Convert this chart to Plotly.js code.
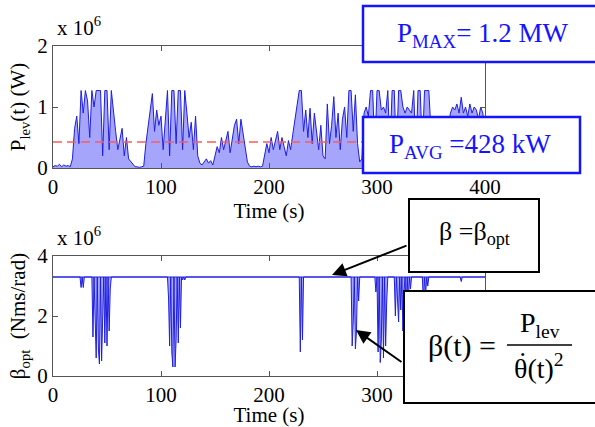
<!DOCTYPE html>
<html>
<head>
<meta charset="utf-8">
<script src="https://cdn.plot.ly/plotly-3.0.1.min.js"></script>
<style>html,body{margin:0;padding:0;background:#fff;}#chart{width:595px;height:427px;}</style>
</head>
<body>
<div id="chart"></div>
<script>
// ---------------- DATA ----------------
// Levitation power P_lev(t), in units of 10^6 W, sampled every 2 s from t = 0 to 400 s
var timeStart = 0;
var timeStep = 2;
var pLevE6 = [
  0.02,0.04,0.03,0.06,0.02,0.05,0.03,0.04,0.02,0.15,
  0.65,0.85,0.40,1.27,0.90,1.27,1.10,0.50,1.27,1.00,
  1.27,1.27,1.27,0.20,1.27,1.27,0.30,1.27,0.90,0.60,
  0.30,0.45,0.65,0.20,0.50,0.15,0.10,0.05,0.02,0.02,
  0.01,0.02,0.03,0.40,0.70,0.90,1.22,0.60,0.95,0.70,
  0.85,0.30,0.80,1.27,0.20,1.27,1.27,0.40,1.27,1.27,
  0.30,1.27,0.90,0.50,0.75,0.30,0.85,0.20,0.08,0.05,
  0.10,0.15,0.08,0.12,0.05,0.20,0.35,0.25,0.50,0.30,
  0.45,0.60,0.25,0.50,0.70,0.80,0.40,0.80,0.55,0.30,
  0.10,0.03,0.02,0.03,0.02,0.03,0.02,0.03,0.20,0.40,
  0.25,0.50,0.30,0.45,0.60,0.30,0.50,0.35,0.20,0.45,
  0.30,0.55,0.80,1.10,1.27,1.27,0.60,0.95,0.50,0.98,
  0.40,0.90,0.60,0.30,0.70,0.20,0.15,1.05,0.40,0.70,
  1.17,0.50,0.90,0.30,0.80,1.00,0.50,1.27,1.27,0.60,
  1.20,0.40,0.10,0.15,0.90,1.00,0.85,1.27,1.27,0.30,
  1.27,1.27,0.95,1.00,0.90,1.27,0.30,1.27,1.27,0.20,
  1.27,1.27,1.00,0.90,1.00,0.95,0.90,1.27,0.20,1.27,
  1.27,0.30,1.27,1.27,1.27,0.60,0.40,0.70,0.50,0.30,
  0.60,0.40,0.50,0.70,0.90,1.00,0.95,1.05,0.90,1.16,
  0.90,1.00,0.85,1.05,0.90,1.00,0.95,0.80,1.00,0.90,
  0.55
];
var pAvgE6 = 0.428;            // P_AVG = 428 kW
var timeRange = [0, 400];

// Damping beta(t), in units of 10^6 Nms/rad
var betaOptE6 = 3.3;
var betaTime = [0,25,26,27,28,29,
  36,37,38,39,40,41,42,43,44,45,46,47,48,49,50,51,52,53,54,
  106,107,108,109,110,111,112,113,114,115,116,117,118,119,120,121,122,123,
  228,229,230,231,232,
  276,277,278,279,280,281,282,283,284,
  298,299,300,301,302,303,304,305,306,307,308,309,310,
  316,317,318,319,320,321,322,323,324,325,326,327,328,329,330,331,332,
  342,343,344,345,346,347,348,
  377,378,379,400];
var betaE6 = [3.3,3.3,2.95,3.3,2.95,3.3,
  3.3,1.3,3.3,1.5,0.6,3.3,0.9,0.4,3.3,0.5,2.0,3.3,1.1,3.3,1.0,3.3,1.5,2.9,3.3,
  3.3,2.6,1.0,3.3,0.8,0.3,3.3,0.3,1.2,3.3,1.1,3.3,1.6,3.3,3.2,3.3,3.2,3.3,
  3.3,0.8,3.3,1.2,3.3,
  3.3,1.0,1.8,3.3,0.9,1.5,3.3,2.5,3.3,
  3.3,2.8,3.3,0.8,3.3,0.45,1.2,3.3,0.6,3.3,1.0,2.5,3.3,
  3.3,2.0,3.3,2.6,1.8,3.3,2.2,3.3,1.5,2.8,3.3,2.0,3.3,2.4,3.3,2.9,3.3,
  3.3,2.4,3.3,2.7,3.3,3.0,3.3,
  3.3,3.15,3.3,3.3];

var xTicks = [0, 100, 200, 300, 400];
var yTicksTop = [0, 1, 2];
var yTicksBottom = [0, 2, 4];

// ---------------- LAYOUT HELPERS ----------------
var W = 595, H = 427;
var mL = 53, mR = 110, mT = 46, mB = 51;
var pw = W - mL - mR, ph = H - mT - mB;
function px(x) { return (x - mL) / pw; }
function py(y) { return (H - mB - y) / ph; }

var serif = 'Liberation Serif, Times New Roman, serif';
var axisColor = '#555';
var blueLine = 'rgb(30,30,225)';
var blueFill = 'rgba(105,105,250,0.6)';

var traces = [
  {x0: timeStart, dx: timeStep, y: pLevE6, type: 'scatter', mode: 'lines',
   fill: 'tozeroy', fillcolor: blueFill, line: {color: blueLine, width: 1},
   xaxis: 'x', yaxis: 'y', hoverinfo: 'skip'},
  {x: timeRange, y: [pAvgE6, pAvgE6], type: 'scatter', mode: 'lines',
   line: {color: 'rgb(255,90,90)', width: 1.5, dash: '9px,5px'},
   xaxis: 'x', yaxis: 'y', hoverinfo: 'skip'},
  {x: timeRange, y: [betaOptE6, betaOptE6], type: 'scatter', mode: 'lines',
   line: {color: blueLine, width: 1}, xaxis: 'x2', yaxis: 'y2', hoverinfo: 'skip'},
  {x: betaTime, y: betaE6, type: 'scatter', mode: 'lines',
   fill: 'tonexty', fillcolor: blueFill, line: {color: blueLine, width: 1},
   xaxis: 'x2', yaxis: 'y2', hoverinfo: 'skip'}
];

var fs = 21;
function xAxis(anchor) {
  return {anchor: anchor, domain: [0, 1], range: timeRange, tickvals: xTicks,
    ticks: 'inside', ticklen: 5, tickcolor: axisColor, mirror: 'ticks',
    showline: true, linecolor: axisColor, linewidth: 1, showgrid: false, zeroline: false,
    tickfont: {family: serif, size: fs, color: '#000'},
    title: {text: 'Time (s)', font: {family: serif, size: fs, color: '#000'}, standoff: 4}};
}
function yAxis(anchor, domain, range, ticks, title) {
  return {anchor: anchor, domain: domain, range: range, tickvals: ticks,
    ticks: 'inside', ticklen: 5, tickcolor: axisColor, mirror: 'ticks',
    showline: true, linecolor: axisColor, linewidth: 1, showgrid: false, zeroline: false,
    tickfont: {family: serif, size: fs, color: '#000'},
    title: {text: title, font: {family: serif, size: fs, color: '#000'}, standoff: 5}};
}

function box(x0, y0, x1, y1, color, w) {
  return {type: 'rect', xref: 'paper', yref: 'paper', layer: 'above',
    x0: px(x0), x1: px(x1), y0: py(y1), y1: py(y0),
    line: {color: color, width: w}, fillcolor: '#fff'};
}
function txt(x, y, text, size, color, xa, ya) {
  return {xref: 'paper', yref: 'paper', x: px(x), y: py(y), text: text, showarrow: false,
    xanchor: xa || 'center', yanchor: ya || 'middle',
    font: {family: serif, size: size, color: color || '#000'}};
}
function arrow(hx, hy, tx, ty) {
  return {xref: 'paper', yref: 'paper', x: px(hx), y: py(hy), ax: tx - hx, ay: ty - hy,
    text: '', showarrow: true, arrowhead: 2, arrowsize: 1.4, arrowwidth: 2, arrowcolor: '#000'};
}

var boxBlue = 'rgb(20,20,255)';
var layout = {
  width: W, height: H, margin: {l: mL, r: mR, t: mT, b: mB},
  paper_bgcolor: '#fff', plot_bgcolor: '#fff', showlegend: false,
  font: {family: serif, size: fs, color: '#000'},
  xaxis: xAxis('y'),
  yaxis: yAxis('x', [py(168), 1], [0, 2], yTicksTop, 'P<sub>lev</sub>(t) (W)'),
  xaxis2: xAxis('y2'),
  yaxis2: yAxis('x2', [0, py(256)], [0, 4], yTicksBottom, 'β<sub>opt</sub>  (Nms/rad)'),
  shapes: [
    box(363, 6, 602, 62, boxBlue, 2.5),
    box(363, 117, 580, 173, boxBlue, 2.5),
    box(409, 199, 539, 272, '#000', 2),
    box(404, 291, 602, 403, '#000', 2),
    {type: 'line', xref: 'paper', yref: 'paper', layer: 'above',
     x0: px(507), x1: px(572), y0: py(345), y1: py(345), line: {color: '#000', width: 1.5}}
  ],
  annotations: [
    txt(55, 42, 'x 10<sup>6</sup>', fs, '#000', 'left', 'bottom'),
    txt(55, 252, 'x 10<sup>6</sup>', fs, '#000', 'left', 'bottom'),
    txt(483, 35, 'P<sub>MAX</sub>= 1.2 MW', 27, boxBlue),
    txt(470, 146, 'P<sub>AVG</sub> =428 kW', 27, boxBlue),
    txt(474, 233, 'β =β<sub>opt</sub>', 26, '#000'),
    txt(462, 346, 'β(t) =', 30, '#000'),
    txt(540, 344, 'P<sub>lev</sub>', 28, '#000', 'center', 'bottom'),
    txt(539, 347, 'θ(t)<sup>2</sup>', 28, '#000', 'center', 'top'),
    txt(522, 344, '˙', 28, '#000', 'center', 'top'),
    arrow(332, 275, 408, 245),
    arrow(356, 330, 403, 363)
  ]
};

Plotly.newPlot('chart', traces, layout, {staticPlot: true, displayModeBar: false});
</script>
</body>
</html>
